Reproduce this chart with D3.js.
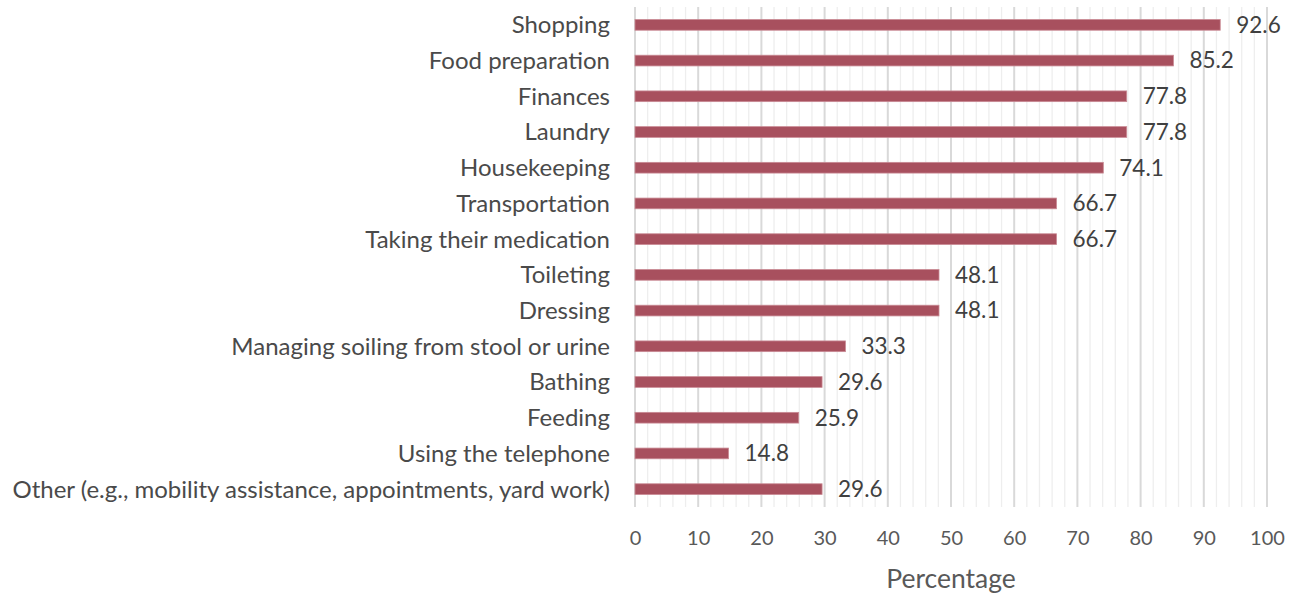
<!DOCTYPE html>
<html><head><meta charset="utf-8">
<script src="https://cdn.jsdelivr.net/npm/d3@7"></script>
<style>body{margin:0;background:#fff}svg{display:block}text{font-family:Lato,"Open Sans",sans-serif}</style>
</head><body><div id="chart"></div>
<script>
const categories = ["Shopping","Food preparation","Finances","Laundry","Housekeeping","Transportation","Taking their medication","Toileting","Dressing","Managing soiling from stool or urine","Bathing","Feeding","Using the telephone","Other (e.g., mobility assistance, appointments, yard work)"];
const values = [92.6,85.2,77.8,77.8,74.1,66.7,66.7,48.1,48.1,33.3,29.6,25.9,14.8,29.6];
const labels = ["92.6","85.2","77.8","77.8","74.1","66.7","66.7","48.1","48.1","33.3","29.6","25.9","14.8","29.6"];
const xTicks = [0,10,20,30,40,50,60,70,80,90,100];
const minorTicks = d3.range(0,101,2);

const W=1302,H=594;
const m={left:635,right:35,top:7,bottom:87};
const svg=d3.select("#chart").append("svg").attr("width",W).attr("height",H);
const x=d3.scaleLinear().domain([0,100]).range([m.left,W-m.right]);
const y=d3.scaleBand().domain(categories).range([m.top,H-m.bottom]).paddingInner(0.7).paddingOuter(0.35);

svg.append("g").selectAll("line").data(minorTicks.filter(d=>d%10!==0)).join("line")
 .attr("x1",d=>x(d)).attr("x2",d=>x(d)).attr("y1",m.top).attr("y2",H-m.bottom)
 .attr("stroke","#eeeeee").attr("stroke-width",1.3);
svg.append("g").selectAll("line").data(xTicks).join("line")
 .attr("x1",d=>x(d)).attr("x2",d=>x(d)).attr("y1",m.top).attr("y2",H-m.bottom)
 .attr("stroke","#d9d9d9").attr("stroke-width",2);

svg.append("g").selectAll("rect").data(values).join("rect")
 .attr("x",x(0)).attr("y",(d,i)=>y(categories[i]))
 .attr("width",d=>x(d)-x(0)).attr("height",y.bandwidth())
 .attr("fill","#a8505e").attr("stroke","#c98a94").attr("stroke-width",0.8);

svg.append("g").selectAll("text").data(labels).join("text")
 .attr("x",(d,i)=>x(values[i])+16).attr("y",(d,i)=>y(categories[i])+y.bandwidth()/2)
 .attr("dy","0.35em").attr("font-size",22.5).attr("fill","#404040").text(d=>d);

svg.append("g").selectAll("text").data(categories).join("text")
 .attr("x",610).attr("y",d=>y(d)+y.bandwidth()/2).attr("dy","0.35em")
 .attr("text-anchor","end").attr("font-size",24).attr("fill","#4a4a4a").text(d=>d);

const xAxis=d3.axisBottom(x).tickValues(xTicks).tickSize(0).tickPadding(24);
const gx=svg.append("g").attr("transform",`translate(0,${H-m.bottom})`).call(xAxis);
gx.select(".domain").remove();
gx.selectAll("text").attr("font-size",20).attr("fill","#595959").style("font-family","Lato,'Open Sans',sans-serif");

svg.append("text").attr("x",x(50)).attr("y",588).attr("text-anchor","middle")
 .attr("font-size",26.5).attr("fill","#595959").text("Percentage");
</script></body></html>
